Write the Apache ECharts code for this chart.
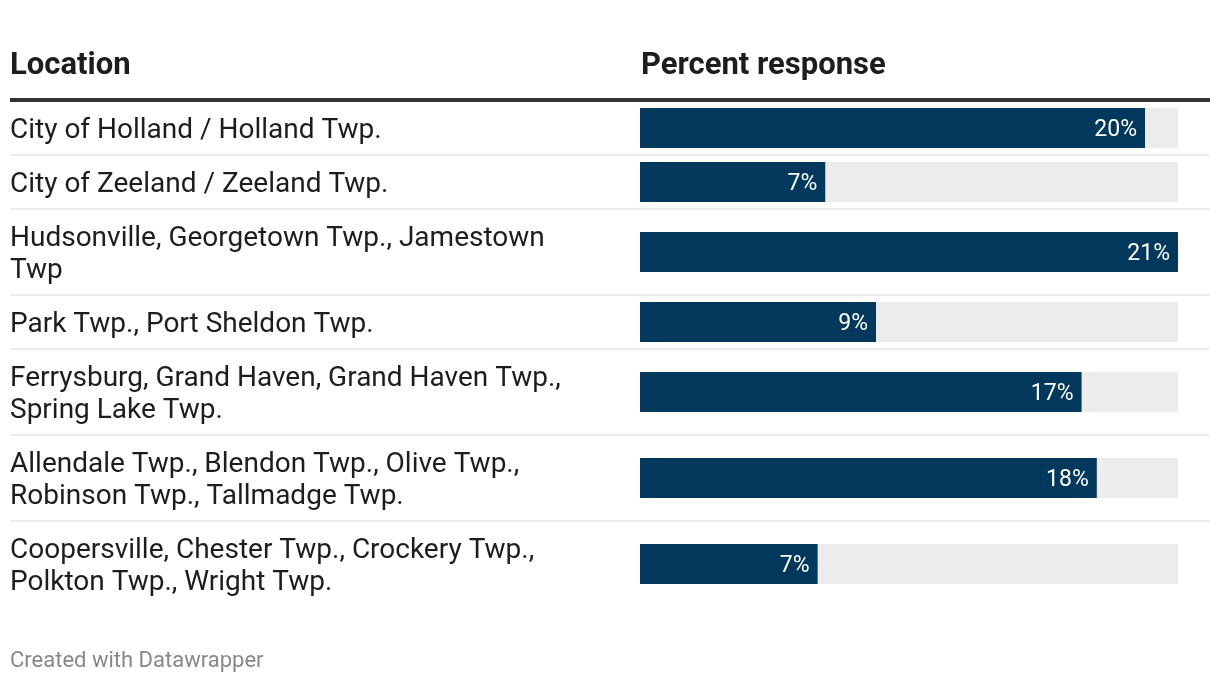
<!DOCTYPE html>
<html>
<head>
<meta charset="utf-8">
<script src="https://cdn.jsdelivr.net/npm/echarts@6/dist/echarts.min.js"></script>
<style>
html,body{margin:0;padding:0;background:#fff;}
#chart{width:1220px;height:682px;}
</style>
</head>
<body>
<div id="chart"></div>
<script>
// ---- data ----
const locations = [
  'City of Holland / Holland Twp.',
  'City of Zeeland / Zeeland Twp.',
  'Hudsonville, Georgetown Twp., Jamestown Twp',
  'Park Twp., Port Sheldon Twp.',
  'Ferrysburg, Grand Haven, Grand Haven Twp., Spring Lake Twp.',
  'Allendale Twp., Blendon Twp., Olive Twp., Robinson Twp., Tallmadge Twp.',
  'Coopersville, Chester Twp., Crockery Twp., Polkton Twp., Wright Twp.'
];
const percentValues = [19.9, 7.3, 21.2, 9.3, 17.4, 18.0, 7.0];
const columnHeaders = ['Location', 'Percent response'];
const footerText = 'Created with Datawrapper';

// ---- layout ----
const FONT = 'Roboto';
const LABEL_SIZE = 28;
const LABEL_MAX_W = 565;
const rowHeights = [54, 54, 86, 54, 86, 86, 86];
const tableTop = 101;
const barLeft = 640, barWidthPx = 538, barH = 40;
const maxVal = Math.max(...percentValues);

const measureCtx = document.createElement('canvas').getContext('2d');
measureCtx.font = LABEL_SIZE + 'px ' + FONT;
function wrapWords(text) {
  const words = text.split(' ');
  const lines = [];
  let cur = '';
  words.forEach(w => {
    const test = cur ? cur + ' ' + w : w;
    if (cur && measureCtx.measureText(test).width > LABEL_MAX_W) {
      lines.push(cur);
      cur = w;
    } else {
      cur = test;
    }
  });
  if (cur) lines.push(cur);
  return lines;
}

const grids = [], xAxes = [], yAxes = [], series = [];
const graphics = [];
let y = tableTop;
rowHeights.forEach((h, i) => {
  const center = y + h / 2;
  grids.push({ left: barLeft, width: barWidthPx, top: center - barH / 2, height: barH, containLabel: false });
  xAxes.push({ gridIndex: i, type: 'value', min: 0, max: maxVal, show: false });
  yAxes.push({
    gridIndex: i, type: 'category', data: [locations[i]],
    axisLine: { show: false }, axisTick: { show: false }, splitLine: { show: false },
    axisLabel: {
      align: 'left', margin: barLeft - 10,
      formatter: v => '{s| }\n' + wrapWords(v).map(l => '{t|' + l + '}').join('\n'),
      rich: {
        s: { fontSize: 1, lineHeight: 6 },
        t: { fontFamily: FONT, fontSize: LABEL_SIZE, lineHeight: 32, color: '#1d1d1d' }
      }
    }
  });
  series.push({
    type: 'bar', xAxisIndex: i, yAxisIndex: i,
    data: [percentValues[i]], barWidth: barH,
    itemStyle: { color: '#01385c' },
    showBackground: true, backgroundStyle: { color: '#ececec' },
    label: {
      show: true, position: 'insideRight', distance: 8, offset: [0, 2],
      formatter: p => Math.round(p.value) + '%',
      fontFamily: FONT, fontSize: 23, color: '#ffffff'
    },
    silent: true, animation: false
  });
  y += h;
  if (i < rowHeights.length - 1) {
    graphics.push({ type: 'line', shape: { x1: 10, y1: y, x2: 1210, y2: y }, style: { stroke: '#ececec', lineWidth: 2 } });
  }
});

graphics.push({ type: 'line', shape: { x1: 10, y1: 100, x2: 1210, y2: 100 }, style: { stroke: '#333333', lineWidth: 4 } });
graphics.push({ type: 'text', left: 10, top: 51, style: { text: columnHeaders[0], font: 'bold 31px Roboto', fill: '#1d1d1d' } });
graphics.push({ type: 'text', left: 641, top: 51, style: { text: columnHeaders[1], font: 'bold 31px Roboto', fill: '#1d1d1d' } });
graphics.push({ type: 'text', left: 10, top: 650, style: { text: footerText, font: '22px Roboto', fill: '#888888' } });

const chart = echarts.init(document.getElementById('chart'), null, { renderer: 'canvas' });
chart.setOption({
  animation: false,
  grid: grids, xAxis: xAxes, yAxis: yAxes, series: series,
  graphic: graphics
});
</script>
</body>
</html>
